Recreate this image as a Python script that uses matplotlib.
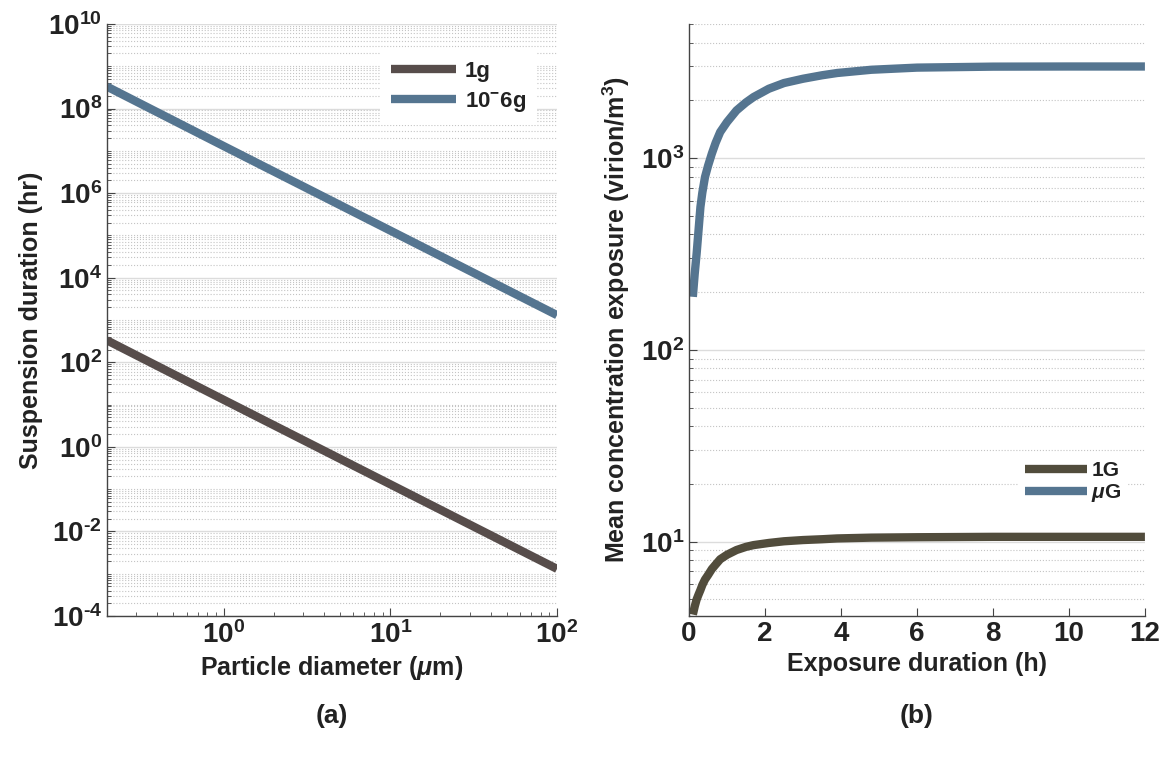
import numpy as np
import matplotlib
matplotlib.use("Agg")
import matplotlib.pyplot as plt
from matplotlib.ticker import LogLocator, NullFormatter, LogFormatterMathtext, FuncFormatter

plt.rcParams['font.family'] = ['Liberation Sans', 'DejaVu Sans']
plt.rcParams['font.weight'] = 'bold'
plt.rcParams['mathtext.fontset'] = 'custom'
plt.rcParams['mathtext.rm'] = 'Liberation Sans:bold'
plt.rcParams['mathtext.bf'] = 'Liberation Sans:bold'
plt.rcParams['mathtext.it'] = 'Liberation Sans:italic'
plt.rcParams['mathtext.default'] = 'bf'

# (a) suspension duration vs particle diameter
diam = [0.2, 1, 10, 100]
susp_1g = [330, 13, 0.13, 0.0013]
susp_ug = [3.3e8, 1.3e7, 1.3e5, 1.3e3]

# (b) mean concentration exposure vs exposure duration
t_exp = [0.1, 0.15, 0.2, 0.25, 0.3, 0.35, 0.42, 0.5, 0.6, 0.7, 0.82, 1.0, 1.25, 1.5,
         1.7, 2.1, 2.5, 3.0, 3.5, 3.9, 4.8, 6, 8, 10, 12]
conc_1G = [4.17, 4.6, 5.0, 5.3, 5.6, 5.95, 6.35, 6.7, 7.2, 7.6, 8.1, 8.55, 9.05, 9.4,
           9.6, 9.85, 10.05, 10.2, 10.3, 10.4, 10.5, 10.55, 10.6, 10.6, 10.6]
conc_uG = [189, 250, 318, 420, 556, 660, 796, 910, 1054, 1200, 1366, 1540, 1771, 1950,
           2080, 2297, 2460, 2590, 2700, 2775, 2885, 2960, 2995, 3000, 3000]

c_brown = '#574d4b'
c_olive = '#514c3c'
c_blue = '#557590'
axcol = '#444444'


def pow10(v, pos):
    e = int(round(np.log10(v)))
    if e < 0:
        return r'$10^{\text{-}%d}$' % (-e)
    return r'$10^{%d}$' % e


fig = plt.figure(figsize=(11.6, 7.6), dpi=100)
ax1 = fig.add_axes([0.0922, 0.1895, 0.388, 0.779])
ax2 = fig.add_axes([0.594, 0.1895, 0.393, 0.779])


def style(ax):
    for s in ['top', 'right']:
        ax.spines[s].set_visible(False)
    for s in ['left', 'bottom']:
        ax.spines[s].set_color(axcol)
        ax.spines[s].set_linewidth(1.0)
    ax.tick_params(which='both', direction='in', colors=axcol, labelcolor='#222222')
    ax.tick_params(which='major', length=6, labelsize=20)
    ax.tick_params(which='minor', length=3)
    ax.set_axisbelow(True)


# ---- left panel
ax1.plot(diam, susp_1g, color=c_brown, lw=6, label='1g', solid_capstyle='butt')
ax1.plot(diam, susp_ug, color=c_blue, lw=6, label='10$^{-}$6g', solid_capstyle='butt')
ax1.set_xscale('log')
ax1.set_yscale('log')
ax1.set_xlim(0.2, 100)
ax1.set_ylim(1e-4, 1e10)
ax1.set_yticks([10.0**k for k in range(-4, 11, 2)])
ax1.yaxis.set_major_formatter(FuncFormatter(pow10))
ax1.yaxis.set_minor_locator(LogLocator(base=10, subs=np.arange(1, 10), numticks=200))
ax1.yaxis.set_minor_formatter(NullFormatter())
ax1.set_xticks([1, 10, 100])
ax1.xaxis.set_major_formatter(FuncFormatter(pow10))
ax1.xaxis.set_minor_locator(LogLocator(base=10, subs=np.arange(2, 10), numticks=50))
ax1.xaxis.set_minor_formatter(NullFormatter())
style(ax1)
ax1.grid(axis='y', which='major', color='#dcdcdc', lw=1.0, ls='-')
ax1.grid(axis='y', which='minor', color='#c4c4c4', lw=0.8, ls=':')
ax1.set_xlabel(r'Particle diameter ($\mathit{\mu}$m)', fontsize=18, fontweight='bold', color='#222222')
ax1.set_ylabel('Suspension duration (hr)', fontsize=18, fontweight='bold', color='#222222', labelpad=4)
leg1 = ax1.legend(loc='upper right', bbox_to_anchor=(0.98, 0.975), fontsize=16, handlelength=2.9,
                  handletextpad=0.4, labelspacing=0.35, frameon=True, facecolor='white',
                  edgecolor='none', framealpha=1, fancybox=False, borderpad=0.5)
for t in leg1.get_texts():
    t.set_color('#222222')

# ---- right panel
ax2.plot(t_exp, conc_1G, color=c_olive, lw=6, label='1G', solid_capstyle='butt')
ax2.plot(t_exp, conc_uG, color=c_blue, lw=6, label=r'$\mathit{\mu}$G', solid_capstyle='butt')
ax2.set_yscale('log')
ax2.set_xlim(0, 12)
ax2.set_ylim(4.1, 5000)
ax2.set_xticks(range(0, 13, 2))
ax2.yaxis.set_major_locator(LogLocator(base=10, numticks=10))
ax2.yaxis.set_major_formatter(FuncFormatter(pow10))
ax2.yaxis.set_minor_locator(LogLocator(base=10, subs=np.arange(2, 10), numticks=50))
ax2.yaxis.set_minor_formatter(NullFormatter())
style(ax2)
ax2.grid(axis='y', which='major', color='#dcdcdc', lw=1.0, ls='-')
ax2.grid(axis='y', which='minor', color='#c4c4c4', lw=0.8, ls=':')
ax2.set_xlabel('Exposure duration (h)', fontsize=18, fontweight='bold', color='#222222')
ax2.set_ylabel('Mean concentration exposure (virion/m$^3$)', fontsize=18, fontweight='bold',
               color='#222222', labelpad=6)
leg2 = ax2.legend(loc='upper right', bbox_to_anchor=(0.985, 0.29), fontsize=15, handlelength=3.0,
                  handletextpad=0.2, labelspacing=0.1, frameon=True, facecolor='white',
                  edgecolor='none', framealpha=1, fancybox=False, borderpad=0.3)
for t in leg2.get_texts():
    t.set_color('#222222')

fig.text(0.286, 0.058, '(a)', ha='center', va='center', fontsize=19, fontweight='bold', color='#222222')
fig.text(0.79, 0.058, '(b)', ha='center', va='center', fontsize=19, fontweight='bold', color='#222222')

fig.savefig('out.png', dpi=100)
